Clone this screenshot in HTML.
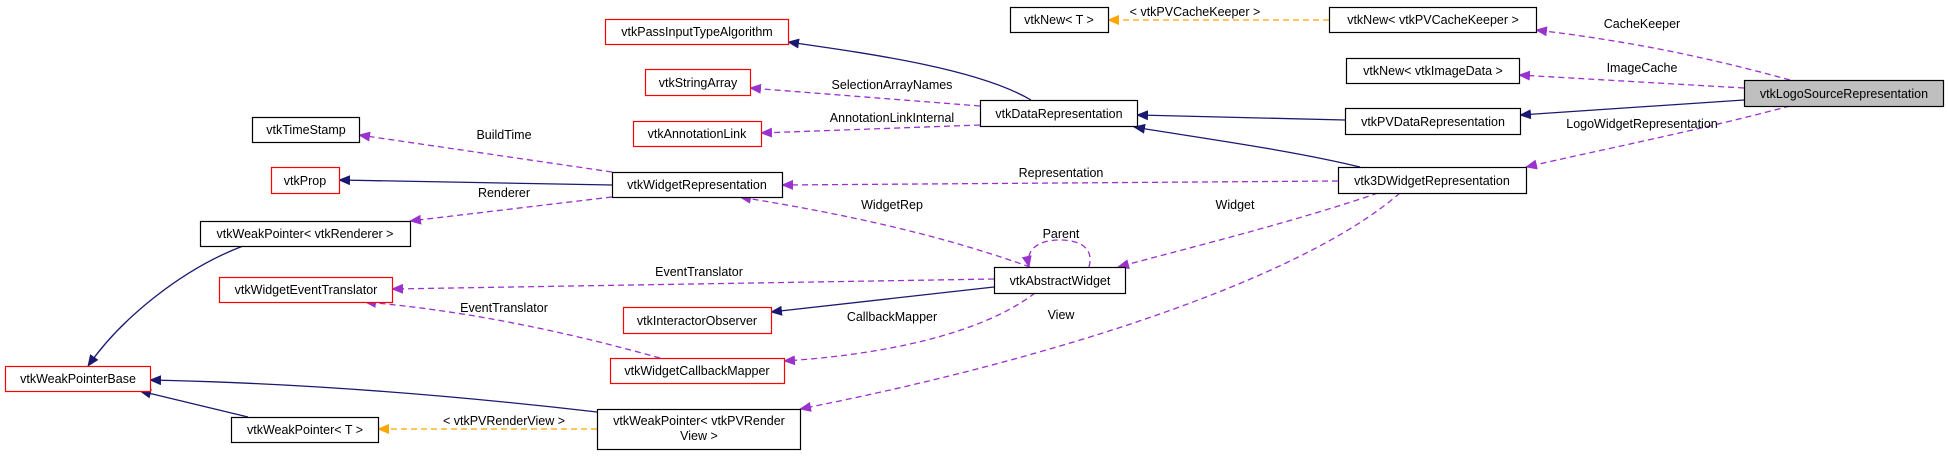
<!DOCTYPE html>
<html><head><meta charset="utf-8"><style>
body{margin:0;background:#fff;width:1948px;height:455px;overflow:hidden}
svg text{font-family:"Liberation Sans",Arial,sans-serif;font-size:12.5px;fill:#000}
</style></head><body>
<svg width="1948" height="455" viewBox="0 0 1948 455" xmlns="http://www.w3.org/2000/svg">
<defs>
<marker id="b" markerWidth="12" markerHeight="10" refX="11" refY="5" orient="auto" markerUnits="userSpaceOnUse"><path d="M0,0 L12,5 L0,10 z" fill="#191970"/></marker>
<marker id="p" markerWidth="12" markerHeight="10" refX="11" refY="5" orient="auto" markerUnits="userSpaceOnUse"><path d="M0,0 L12,5 L0,10 z" fill="#9a32cd"/></marker>
<marker id="o" markerWidth="12" markerHeight="10" refX="11" refY="5" orient="auto" markerUnits="userSpaceOnUse"><path d="M0,0 L12,5 L0,10 z" fill="#ffa500"/></marker>
</defs>
<g fill="none" stroke-width="1.3">
<!-- inheritance -->
<g stroke="#191970" marker-end="url(#b)">
<path d="M1031,100 C980,70 880,55 788,42"/>
<path d="M1345,120 L1137,115"/>
<path d="M1360,167 C1290,150 1200,138 1134,127"/>
<path d="M1744,100 L1520,115"/>
<path d="M612,185 L339,180"/>
<path d="M994,287 L771,312"/>
<path d="M243,246 C180,270 120,320 88,366"/>
<path d="M597,412 C450,395 300,383 150,380"/>
<path d="M248,417 L140,391"/>
</g>
<g stroke="#ffa500" stroke-dasharray="6,4" marker-end="url(#o)">
<path d="M1329,20 L1108,20"/>
<path d="M597,429 L378,429"/>
</g>
<g stroke="#9a32cd" stroke-dasharray="6,4" marker-end="url(#p)">
<path d="M1790,80 C1700,55 1620,40 1536,30"/>
<path d="M1744,88 L1519,75"/>
<path d="M1790,106 C1700,130 1600,150 1526,167"/>
<path d="M1338,181 L782,185"/>
<path d="M1378,193 C1300,220 1200,245 1118,267"/>
<path d="M1400,193 C1300,280 1050,360 800,409"/>
<path d="M980,106 L750,88"/>
<path d="M980,125 L761,133"/>
<path d="M612,172 L359,135"/>
<path d="M612,197 L410,221"/>
<path d="M1030,267 C940,235 850,215 740,197"/>
<path d="M994,279 L392,289"/>
<path d="M1035,293 C980,335 880,355 784,361"/>
<path d="M660,358 C560,330 460,310 365,302"/>
<path d="M1089,267 C1095,245 1075,240 1060,240 C1040,240 1025,248 1029,267"/>
</g>
</g>
<!-- boxes -->
<g stroke-width="1.2">
<rect x="605.5" y="19.5" width="183" height="25" fill="#fff" stroke="#ff0000"/>
<rect x="645.5" y="69.5" width="105" height="26" fill="#fff" stroke="#ff0000"/>
<rect x="633.5" y="121.5" width="128" height="25" fill="#fff" stroke="#ff0000"/>
<rect x="980.5" y="100.5" width="157" height="26" fill="#fff" stroke="#000"/>
<rect x="1010.5" y="7.5" width="98" height="25" fill="#fff" stroke="#000"/>
<rect x="1329.5" y="7.5" width="207" height="25" fill="#fff" stroke="#000"/>
<rect x="1346.5" y="58.5" width="173" height="25" fill="#fff" stroke="#000"/>
<rect x="1744.5" y="80.5" width="199" height="26" fill="#bfbfbf" stroke="#000"/>
<rect x="1345.5" y="108.5" width="175" height="26" fill="#fff" stroke="#000"/>
<rect x="1338.5" y="167.5" width="188" height="26" fill="#fff" stroke="#000"/>
<rect x="612.5" y="172.5" width="170" height="25" fill="#fff" stroke="#000"/>
<rect x="252.5" y="117.5" width="107" height="25" fill="#fff" stroke="#000"/>
<rect x="271.5" y="167.5" width="68" height="26" fill="#fff" stroke="#ff0000"/>
<rect x="200.5" y="221.5" width="210" height="25" fill="#fff" stroke="#000"/>
<rect x="219.5" y="277.5" width="173" height="25" fill="#fff" stroke="#ff0000"/>
<rect x="5.5" y="366.5" width="145" height="25" fill="#fff" stroke="#ff0000"/>
<rect x="231.5" y="417.5" width="147" height="25" fill="#fff" stroke="#000"/>
<rect x="597.5" y="409.5" width="203" height="40" fill="#fff" stroke="#000"/>
<rect x="994.5" y="267.5" width="131" height="26" fill="#fff" stroke="#000"/>
<rect x="623.5" y="307.5" width="148" height="26" fill="#fff" stroke="#ff0000"/>
<rect x="610.5" y="358.5" width="174" height="25" fill="#fff" stroke="#ff0000"/>
</g>
<g text-anchor="middle">
<text x="697" y="36">vtkPassInputTypeAlgorithm</text>
<text x="698" y="87">vtkStringArray</text>
<text x="697" y="138">vtkAnnotationLink</text>
<text x="1059" y="118">vtkDataRepresentation</text>
<text x="1059" y="24">vtkNew&lt; T &gt;</text>
<text x="1433" y="24">vtkNew&lt; vtkPVCacheKeeper &gt;</text>
<text x="1433" y="75">vtkNew&lt; vtkImageData &gt;</text>
<text x="1844" y="98">vtkLogoSourceRepresentation</text>
<text x="1433" y="126">vtkPVDataRepresentation</text>
<text x="1432" y="185">vtk3DWidgetRepresentation</text>
<text x="697" y="189">vtkWidgetRepresentation</text>
<text x="306" y="134">vtkTimeStamp</text>
<text x="305" y="185">vtkProp</text>
<text x="305" y="238">vtkWeakPointer&lt; vtkRenderer &gt;</text>
<text x="306" y="294">vtkWidgetEventTranslator</text>
<text x="78" y="383">vtkWeakPointerBase</text>
<text x="305" y="434">vtkWeakPointer&lt; T &gt;</text>
<text x="699" y="425">vtkWeakPointer&lt; vtkPVRender</text>
<text x="699" y="440">View &gt;</text>
<text x="1060" y="285">vtkAbstractWidget</text>
<text x="697" y="325">vtkInteractorObserver</text>
<text x="697" y="375">vtkWidgetCallbackMapper</text>
<!-- edge labels -->
<text x="1642" y="28">CacheKeeper</text>
<text x="1642" y="72">ImageCache</text>
<text x="1642" y="128">LogoWidgetRepresentation</text>
<text x="1195" y="16">&lt; vtkPVCacheKeeper &gt;</text>
<text x="892" y="89">SelectionArrayNames</text>
<text x="892" y="122">AnnotationLinkInternal</text>
<text x="1061" y="177">Representation</text>
<text x="892" y="209">WidgetRep</text>
<text x="1235" y="209">Widget</text>
<text x="504" y="139">BuildTime</text>
<text x="504" y="197">Renderer</text>
<text x="1061" y="238">Parent</text>
<text x="699" y="276">EventTranslator</text>
<text x="504" y="312">EventTranslator</text>
<text x="892" y="321">CallbackMapper</text>
<text x="1061" y="319">View</text>
<text x="504" y="425">&lt; vtkPVRenderView &gt;</text>
</g>
</svg>
</body></html>
